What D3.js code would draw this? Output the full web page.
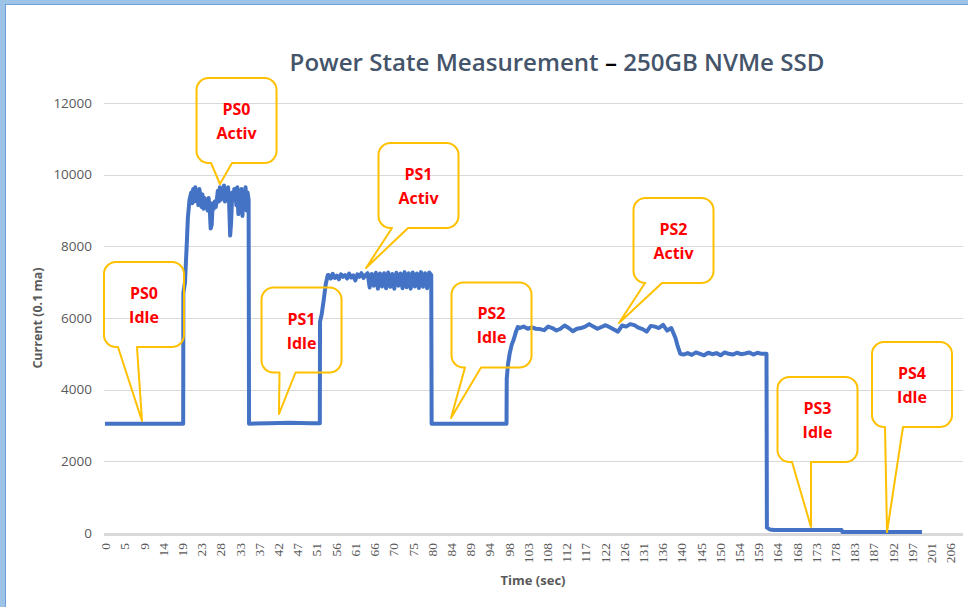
<!DOCTYPE html>
<html>
<head>
<meta charset="utf-8">
<script src="https://cdn.jsdelivr.net/npm/d3@7"></script>
<style>
  html, body { margin: 0; padding: 0; background: #fff; }
  svg { display: block; }
</style>
</head>
<body>
<script>
// ---------------- DATA ----------------
const chartTitle = "Power State Measurement";
const chartSubtitle = "250GB NVMe SSD";
const yTitle = "Current (0.1 ma)";
const xTitle = "Time (sec)";

const xTickLabels = ["0","5","9","14","19","23","28","33","37","42","47","51","56","61","66","70","75","80","84","89","94","98","103","108","112","117","122","126","131","136","140","145","150","154","159","164","168","173","178","183","187","192","197","201","206"];
const xTickStep = 4.68; // seconds between category labels
const yTickValues = [0, 2000, 4000, 6000, 8000, 10000, 12000];

// [time (s), current (0.1 mA)]
const ps0Idle = [[0,3050],[19.05,3050]];
const ps0Active = [[19.1,6700],[19.5,7000],[19.9,8000],[20.2,8800],[20.6,9300],
  [21.0,9500],[21.25,9200],[21.5,9600],[21.75,9250],[22.0,9650],[22.25,9300],[22.5,9550],[22.75,9150],
  [23.0,9600],[23.25,9400],[23.5,9100],[23.75,9450],[24.0,9050],[24.25,9350],[24.5,9150],[24.75,9300],
  [25.0,9000],[25.25,9350],[25.5,9100],[25.75,8500],[26.0,8600],[26.25,9200],[26.5,9050],[26.75,9250],
  [27.0,9100],[27.25,9300],[27.5,9550],[27.75,9250],[28.0,9650],[28.25,9300],[28.5,9600],[28.75,9350],
  [29.0,9700],[29.25,9250],[29.5,9550],[29.75,9300],[30.0,9650],[30.25,9200],[30.5,8300],[30.75,8700],
  [31.0,9500],[31.25,9300],[31.5,9600],[31.75,9600],[32.0,9150],[32.25,9650],[32.5,8900],[32.75,9500],
  [33.0,9100],[33.25,9600],[33.5,8850],[33.75,9550],[34.0,9200],[34.25,9650],[34.5,9000],[34.75,9500],
  [35.0,9300],[35.1,3050]];
const ps1Idle = [[35.1,3050],[40,3060],[45,3080],[50,3060],[52.35,3060]];
const ps1Active = [[52.4,5900],[52.8,6100],[53.3,6500],[53.8,6950],[54.3,7200],
  [54.5,7200],[55.0,7100],[55.5,7230],[56.0,7120],[56.5,7180],[57.0,7080],[57.5,7220],[58.0,7150],
  [58.5,7200],[59.0,7100],[59.5,7240],[60.0,7130],[60.5,7190],[61.0,7050],[61.5,7220],[62.0,7150],
  [62.5,7250],[63.0,7120],[63.5,7200],
  [64.0,7250],[64.5,6850],[65.0,7230],[65.5,6900],[66.0,7260],[66.5,6820],[67.0,7240],[67.5,6880],
  [68.0,7250],[68.5,6830],[69.0,7270],[69.5,6870],[70.0,7230],[70.5,6820],[71.0,7260],[71.5,6900],
  [72.0,7240],[72.5,6830],[73.0,7280],[73.5,6860],[74.0,7250],[74.5,6820],[75.0,7270],[75.5,6880],
  [76.0,7240],[76.5,6840],[77.0,7280],[77.5,6870],[78.0,7250],[78.5,6830],[79.0,7270],[79.5,7200],
  [79.6,3050]];
const ps2Idle = [[79.6,3050],[97.85,3050]];
const ps2Active = [[97.9,4300],[98.2,4700],[98.6,5000],[99.1,5250],[99.6,5400],[100.1,5600],[100.6,5750],
  [101,5720],[102,5760],[103,5700],[104,5740],[105,5700],[106,5690],[107,5660],[108,5760],[109,5720],
  [110,5650],[111,5700],[112,5790],[113,5720],[114,5630],[115,5700],[116,5720],[117,5760],[118,5830],
  [119,5760],[120,5700],[121,5750],[122,5800],[123,5740],[124,5680],[125,5620],[126,5790],[127,5760],
  [128,5830],[129,5800],[130,5730],[131,5690],[132,5620],[133,5780],[134,5760],[135,5720],[136,5810],
  [137,5650],[138,5720],[139,5450],[139.6,5200],[140.2,5000]];
const ps2Low = [[141,4980],[142,5020],[143,4970],[144,5040],[145,5000],[146,4960],[147,5030],[148,4990],
  [149,5020],[150,4960],[151,5040],[152,5000],[153,4980],[154,5030],[155,4990],[156,5010],[157,5040],
  [158,4980],[159,5030],[160,5000],[161.2,5000]];
const ps3Idle = [[161.3,150],[162,100],[163,85],[170,85],[179.5,85]];
const ps4Idle = [[179.7,25],[199.1,25]];

const calloutLines = [["PS0","Idle"],["PS0","Activ"],["PS1","Idle"],["PS1","Activ"],
                      ["PS2","Idle"],["PS2","Activ"],["PS3","Idle"],["PS4","Idle"]];
// tip anchor in data coordinates [time, current]
const calloutTips = [[9.02,3126],[28.02,9740],[42.4,3321],[63.6,7395],[84.32,3209],[125.26,5860],[172.05,167],[190.57,28]];
// box centre in data coordinates [time, current]
const calloutCenters = [[9.5,6377],[32.05,11512],[47.89,5665],[76.4,9698],[94.19,5805],[138.54,8163],[173.63,3167],[196.66,4144]];

// ---------------- LAYOUT ----------------
const W = 968, H = 607;
const plotLeft = 104, plotRight = 963;
const x = d3.scaleLinear().domain([0, 205.92]).range([105, 950]);
const y = d3.scaleLinear().domain([0, 12000]).range([533, 103]);

const svg = d3.select("body").append("svg").attr("width", W).attr("height", H);
svg.append("rect").attr("width", W).attr("height", H).attr("fill", "#fff");

// frame
svg.append("rect").attr("x",0).attr("y",0).attr("width",W).attr("height",5).attr("fill","#9DC3E6");
svg.append("rect").attr("x",0).attr("y",0).attr("width",6).attr("height",H).attr("fill","#9DC3E6");
svg.append("line").attr("x1",6).attr("x2",W).attr("y1",4.5).attr("y2",4.5).attr("stroke","#6F9FD8").attr("stroke-width",1);
svg.append("line").attr("x1",5.5).attr("x2",5.5).attr("y1",4).attr("y2",H).attr("stroke","#6F9FD8").attr("stroke-width",1);

// gridlines
svg.append("g").selectAll("line").data(yTickValues.filter(v => v > 0)).join("line")
  .attr("x1", plotLeft).attr("x2", plotRight)
  .attr("y1", d => Math.round(y(d)) + 0.5).attr("y2", d => Math.round(y(d)) + 0.5)
  .attr("stroke", "#D9D9D9").attr("stroke-width", 1);
// base axis line
svg.append("line").attr("x1", plotLeft).attr("x2", plotRight)
  .attr("y1", y(0) + 1.5).attr("y2", y(0) + 1.5)
  .attr("stroke", "#D9D9D9").attr("stroke-width", 3);

// y axis labels
const yAxis = svg.append("g").attr("transform", `translate(${plotLeft},0)`)
  .call(d3.axisLeft(y).tickValues(yTickValues).tickSize(0).tickPadding(12).tickFormat(d3.format("d")));
yAxis.select(".domain").remove();
yAxis.selectAll("text").attr("fill", "#595959").style("font-family", "'Open Sans', sans-serif").style("font-size", "13.5px");

// x axis labels
const xp = d3.scalePoint().domain(xTickLabels).range([x(0), x((xTickLabels.length - 1) * xTickStep)]);
const xAxis = svg.append("g").attr("transform", `translate(0,538)`)
  .call(d3.axisBottom(xp).tickSize(0));
xAxis.select(".domain").remove();
xAxis.selectAll("text")
  .attr("y", 0).attr("x", -5).attr("dy", "0.35em")
  .attr("transform", "rotate(-90)")
  .style("text-anchor", "end")
  .attr("fill", "#595959")
  .style("font-family", "'Liberation Serif', serif").style("font-size", "13.5px");

// series line
const series = [].concat(ps0Idle, ps0Active, ps1Idle, ps1Active, ps2Idle, ps2Active, ps2Low, ps3Idle, ps4Idle);
svg.append("path").datum(series)
  .attr("fill", "none").attr("stroke", "#4472C4").attr("stroke-width", 4)
  .attr("stroke-linejoin", "round").attr("stroke-linecap", "butt")
  .attr("d", d3.line().x(d => x(d[0])).y(d => y(d[1])));

// callouts
const bW = 80, bH = 85, bR = 12;
const baseOffsets = [[-26,-7],[-25.5,-4.5],[-22,-6],[-26.5,-10.5],[-26.5,-10.5],[-28.5,-11.5],[-25.5,-6.5],[-27,-9]];
calloutLines.forEach((lines, i) => {
  const cx = x(calloutCenters[i][0]), cy = y(calloutCenters[i][1]);
  const tx = x(calloutTips[i][0]), ty = y(calloutTips[i][1]);
  const x0 = cx - bW/2, x1 = cx + bW/2, y0 = cy - bH/2, y1 = cy + bH/2;
  const b1 = cx + baseOffsets[i][0], b2 = cx + baseOffsets[i][1];
  const p = `M${x0+bR},${y0} H${x1-bR} A${bR},${bR} 0 0 1 ${x1},${y0+bR} V${y1-bR} A${bR},${bR} 0 0 1 ${x1-bR},${y1} H${b2} L${tx},${ty} L${b1},${y1} H${x0+bR} A${bR},${bR} 0 0 1 ${x0},${y1-bR} V${y0+bR} A${bR},${bR} 0 0 1 ${x0+bR},${y0} Z`;
  svg.append("path").attr("d", p).attr("fill", "none").attr("stroke", "#FFC000").attr("stroke-width", 2).attr("stroke-linejoin","round");
  lines.forEach((t, j) => {
    svg.append("text").attr("x", cx).attr("y", cy + (j === 0 ? -11.5 : 12.5))
      .attr("text-anchor", "middle").attr("dominant-baseline", "central")
      .attr("fill", "#FF0000").style("font-family", "'Open Sans', sans-serif")
      .style("font-weight", "bold").style("font-size", "16px").text(t);
  });
});

// title
const title = svg.append("text").attr("x", 557).attr("y", 71).attr("text-anchor", "middle")
  .style("font-family", "'Open Sans', sans-serif").style("font-weight", "600").style("font-size", "24px")
  .attr("fill", "#44546A");
title.append("tspan").text(chartTitle + " ");
title.append("tspan").attr("fill", "#000").text("–");
title.append("tspan").text(" " + chartSubtitle);
const tl = title.node().getComputedTextLength();
title.style("font-size", (24 * 535 / tl) + "px");

// axis titles
svg.append("text").attr("transform", "translate(37,318) rotate(-90)")
  .attr("text-anchor", "middle").attr("dominant-baseline", "central")
  .attr("fill", "#595959").style("font-family", "'Open Sans', sans-serif")
  .style("font-weight", "bold").style("font-size", "12.5px").text(yTitle);
svg.append("text").attr("x", 533).attr("y", 585).attr("text-anchor", "middle")
  .attr("fill", "#595959").style("font-family", "'Open Sans', sans-serif")
  .style("font-weight", "bold").style("font-size", "13px").text(xTitle);
</script>
</body>
</html>
